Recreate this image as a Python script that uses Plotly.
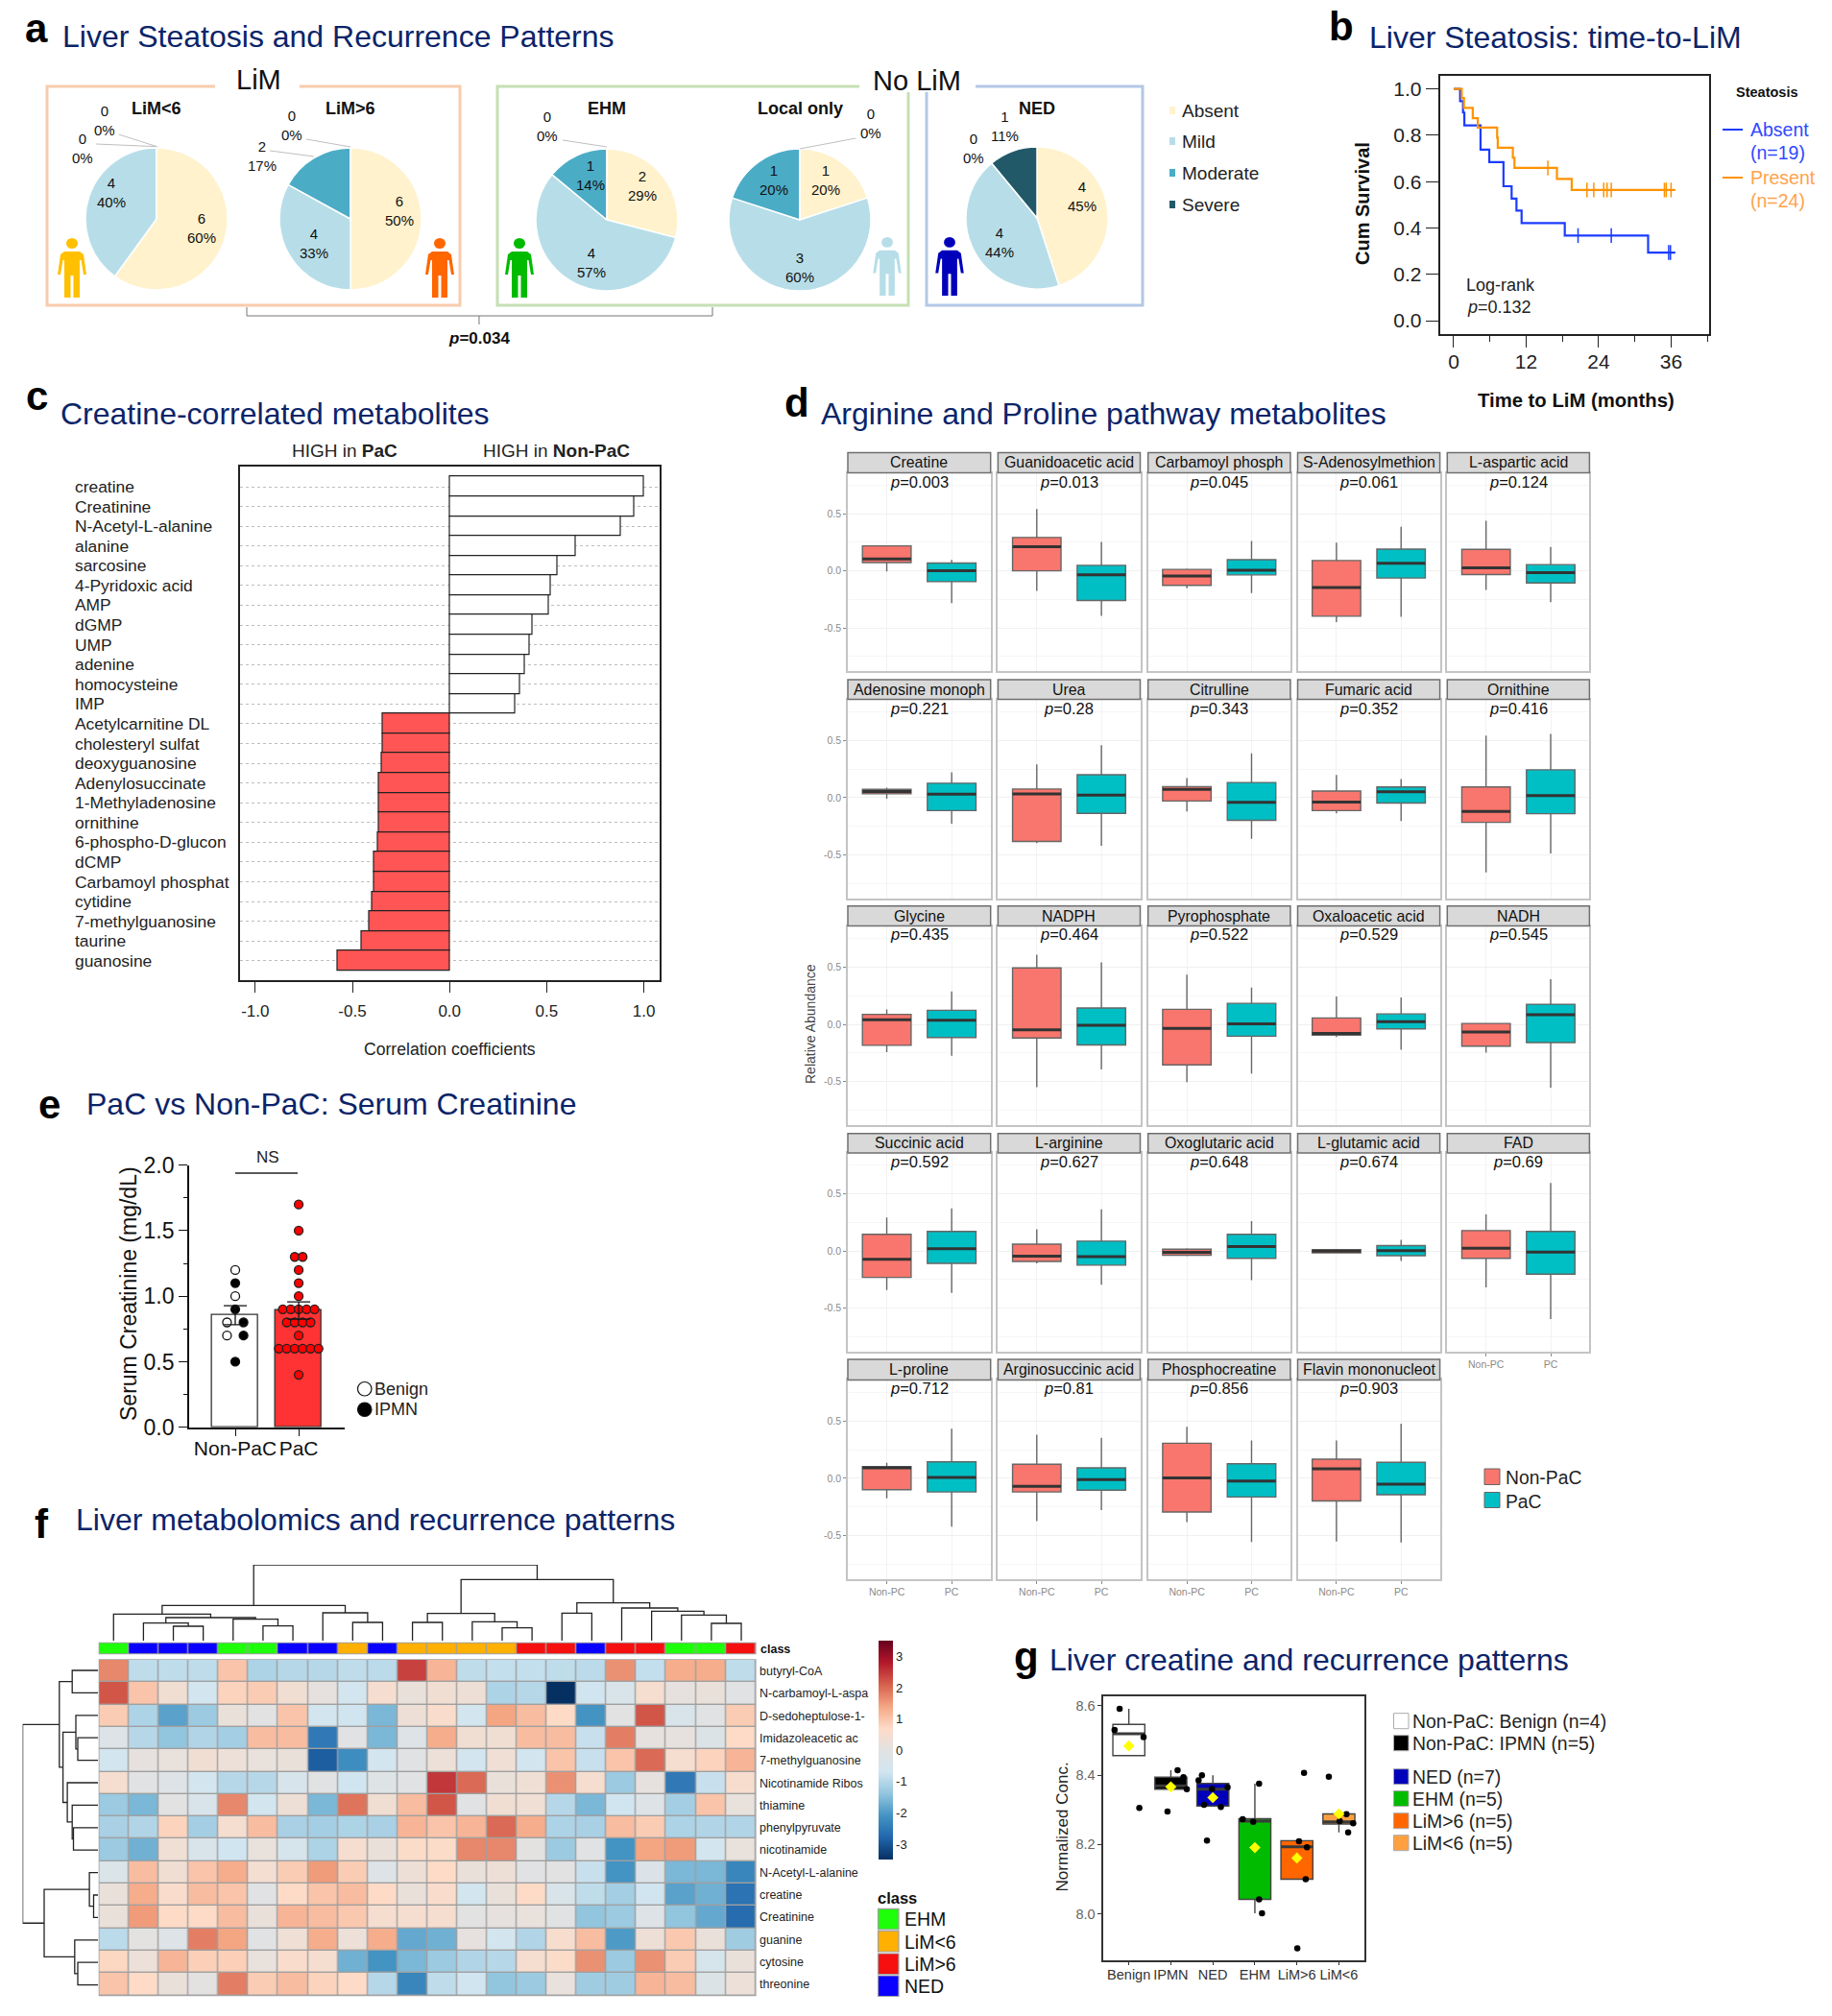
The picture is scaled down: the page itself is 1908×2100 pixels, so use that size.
import plotly.graph_objects as go

W, H = 1908, 2100
FONT = "Liberation Sans, Arial, sans-serif"
NAVY = "#0B2469"

# ---------- panel a ----------
pie_titles = ["LiM<6", "LiM>6", "EHM", "Local only", "NED"]
pie_slices = ["Absent", "Mild", "Moderate", "Severe"]
pie_values = [[60, 40, 0, 0], [50, 33, 17, 0], [29, 57, 14, 0], [20, 60, 20, 0], [45, 44, 0, 11]]
pie_colors = ["#FFF2CC", "#B7DEE8", "#4BACC6", "#215968"]
pie_label_text = [
    [("6<br>60%", 210, 238), ("4<br>40%", 116, 200), ("0<br>0%", 109, 125), ("0<br>0%", 86, 154)],
    [("6<br>50%", 416, 219), ("4<br>33%", 327, 253), ("2<br>17%", 273, 162), ("0<br>0%", 304, 130)],
    [("2<br>29%", 669, 194), ("4<br>57%", 616, 273), ("1<br>14%", 615, 182), ("0<br>0%", 570, 132)],
    [("1<br>20%", 860, 187), ("3<br>60%", 833, 278), ("1<br>20%", 806, 187), ("0<br>0%", 907, 129)],
    [("4<br>45%", 1127, 204), ("4<br>44%", 1041, 252), ("1<br>11%", 1046, 132), ("0<br>0%", 1014, 155)],
]

# ---------- panel b ----------
km_absent_t = [0, 1.07, 1.55, 1.77, 4.45, 5.9, 8.25, 9.6, 10.4, 11.25, 18.4, 32.2, 36.7]
km_absent_s = [1.0, 0.947, 0.898, 0.843, 0.738, 0.684, 0.58, 0.527, 0.475, 0.421, 0.367, 0.294, 0.294]
km_absent_cens_t = [20.6, 26.1, 35.6, 35.9]
km_absent_cens_s = [0.367, 0.367, 0.294, 0.294]
km_present_t = [0, 1.34, 1.7, 3.16, 4.0, 7.2, 7.3, 9.8, 10.07, 17.1, 19.55, 36.7]
km_present_s = [1.0, 0.961, 0.918, 0.874, 0.833, 0.79, 0.746, 0.703, 0.659, 0.612, 0.564, 0.564]
km_present_cens_t = [15.6, 22.07, 23.2, 24.85, 25.4, 26.1, 34.9, 35.2, 36.0]
km_present_cens_s = [0.659, 0.564, 0.564, 0.564, 0.564, 0.564, 0.564, 0.564, 0.564]

# ---------- panel c ----------
corr_names = ["creatine", "Creatinine", "N-Acetyl-L-alanine", "alanine", "sarcosine", "4-Pyridoxic acid", "AMP",
              "dGMP", "UMP", "adenine", "homocysteine", "IMP", "Acetylcarnitine DL", "cholesteryl sulfat",
              "deoxyguanosine", "Adenylosuccinate", "1-Methyladenosine", "ornithine", "6-phospho-D-glucon", "dCMP",
              "Carbamoyl phosphat", "cytidine", "7-methylguanosine", "taurine", "guanosine"]
corr_values = [1.0, 0.951, 0.881, 0.647, 0.556, 0.522, 0.513, 0.426, 0.414, 0.386, 0.362, 0.34, -0.343, -0.345,
               -0.347, -0.362, -0.362, -0.366, -0.369, -0.386, -0.388, -0.398, -0.412, -0.453, -0.577]

# ---------- panel d: [q1, median, q3, low whisker, high whisker] ----------
box_names = ["Creatine", "Guanidoacetic acid", "Carbamoyl phosph", "S-Adenosylmethion", "L-aspartic acid",
             "Adenosine monoph", "Urea", "Citrulline", "Fumaric acid", "Ornithine",
             "Glycine", "NADPH", "Pyrophosphate", "Oxaloacetic acid", "NADH",
             "Succinic acid", "L-arginine", "Oxoglutaric acid", "L-glutamic acid", "FAD",
             "L-proline", "Arginosuccinic acid", "Phosphocreatine", "Flavin mononucleot"]
box_pvals = ["0.003", "0.013", "0.045", "0.061", "0.124", "0.221", "0.28", "0.343", "0.352", "0.416",
             "0.435", "0.464", "0.522", "0.529", "0.545", "0.592", "0.627", "0.648", "0.674", "0.69",
             "0.712", "0.81", "0.856", "0.903"]
box_nonpac = [[.072, .104, .218, -.006, .22], [0, .21, .292, -.176, .54], [-.128, -.045, .012, -.152, .02],
              [-.397, -.146, .09, -.448, .247], [-.033, .027, .188, -.167, .438],
              [.033, .054, .072, -.009, .087], [-.383, .033, .075, -.398, .29], [-.03, .072, .096, -.12, .171],
              [-.114, -.039, .057, -.138, .198], [-.216, -.12, .093, -.653, .542],
              [-.183, .04, .087, -.242, .131], [-.119, -.048, .492, -.548, .607], [-.353, -.036, .131, -.504, .433],
              [-.095, -.079, .056, -.111, .242], [-.19, -.067, .008, -.246, .012],
              [-.23, -.071, .147, -.341, .294], [-.091, -.044, .06, -.107, .19], [-.036, -.012, .016, -.044, .024],
              [-.016, 0, .012, -.02, .016], [-.063, .024, .179, -.317, .321],
              [-.099, .091, .103, -.175, .135], [-.119, -.071, .123, -.373, .381], [-.294, .004, .306, -.381, .448],
              [-.198, .083, .167, -.552, .329]]
box_pac = [[-.095, 0, .068, -.283, .095], [-.26, -.036, .048, -.394, .253], [-.036, .006, .098, -.194, .262],
           [-.063, .065, .19, -.403, .385], [-.107, -.015, .054, -.274, .208],
           [-.114, .03, .126, -.228, .222], [-.138, .021, .2, -.422, .458], [-.198, -.042, .132, -.36, .386],
           [-.048, .051, .093, -.204, .162], [-.141, .018, .243, -.488, .557],
           [-.115, .036, .123, -.274, .286], [-.179, -.008, .143, -.393, .54], [-.103, .004, .183, -.429, .321],
           [-.04, .024, .091, -.222, .234], [-.159, .083, .175, -.552, .393],
           [-.107, .02, .171, -.365, .373], [-.123, -.048, .087, -.294, .365], [-.063, .04, .147, -.254, .262],
           [-.04, .004, .048, -.087, .099], [-.202, -.008, .171, -.595, .595],
           [-.119, .008, .143, -.421, .433], [-.103, -.012, .091, -.278, .353], [-.163, -.024, .127, -.556, .329],
           [-.143, -.052, .139, -.56, .476]]
box_cats = ["Non-PC", "PC"]

# ---------- panel e ----------
serum_cats = ["Non-PaC", "PaC"]
serum_means = [0.855, 0.891]
serum_sem = [0.073, 0.066]
serum_benign = [1.2, 1.0, 0.8, 0.7]
serum_ipmn = [1.1, 0.9, 0.8, 0.7, 0.5]
serum_pac = [1.7, 1.5, 1.3, 1.3, 1.2, 1.1, 1.0, .9, .9, .9, .9, .9, .8, .8, .8, .8, .7,
             .6, .6, .6, .6, .6, .6, .4]

# ---------- panel f ----------
hm_rows = ["butyryl-CoA", "N-carbamoyl-L-aspa", "D-sedoheptulose-1-", "Imidazoleacetic ac", "7-methylguanosine",
           "Nicotinamide Ribos", "thiamine", "phenylpyruvate", "nicotinamide", "N-Acetyl-L-alanine", "creatine",
           "Creatinine", "guanine", "cytosine", "threonine"]
hm_class = ["EHM", "NED", "NED", "NED", "EHM", "EHM", "NED", "NED", "LiM<6", "NED", "LiM<6", "LiM<6", "LiM<6", "LiM<6",
            "LiM>6", "LiM>6", "NED", "LiM>6", "LiM>6", "EHM", "EHM", "LiM>6"]
hm_values = [
    [1.7, -.9, -.9, -.9, 1.0, -1.1, -1, -1, -.9, -.95, 2.4, 1.2, -.9, -.85, -.85, -.9, -.95, 1.6, -.85, 1.3, 1.3, -.9],
    [2.2, 1.0, .4, -.6, .8, .9, .4, .1, -.6, .5, .2, .4, .3, -1.1, -1, -3.5, -.7, -.4, .5, .1, .2, -.1],
    [.9, -1.1, -1.9, -1.3, .2, 0, 1.0, -.6, -.7, -1.6, .3, .6, -.6, 1.4, 1.1, .7, -2.1, 0, 2.2, -.4, -.05, .9],
    [-.2, -1, -1.4, -1.05, -1.2, 1.1, 1.1, -2.5, -.1, -1.6, -.2, 1.3, .4, .4, 1.1, 1.1, -.8, 1.8, .1, .1, -.25, .7],
    [-.6, .1, .15, .4, .25, .15, .2, -2.9, -2.2, -.6, -.1, .25, -.6, .35, -.6, 1.0, -.8, 1.0, 2.0, .5, .8, 1.2],
    [.5, -.05, -.2, -.6, -1, -1, -.45, -.05, -.7, -.15, -.05, 2.5, 2.0, .2, .35, 1.6, .5, -1.3, .1, -2.5, -.8, .55],
    [-1.3, -1.6, 0, -.4, 1.7, -.6, .3, -1.6, 1.9, .4, 1.1, 2.2, -.1, .4, .35, -1, -1.6, -.7, -.2, -1.2, 1.0, .15],
    [-1.15, -1.05, .8, -1.2, .5, 1.1, -1.15, -1.2, -1.1, -1.15, 1.2, 1.0, 1.2, 2.0, 1.3, -1.1, -1.15, 1.1, .9, -1.1, -1.05, -1.05],
    [-1.3, -1.7, .35, -.4, -.7, .15, -.5, -1.1, .5, .2, .65, .65, 1.7, 1.7, .05, -1.3, -.05, -2.1, 1.4, 1.5, -.6, .15],
    [-.35, 1.1, .4, 1.0, 1.3, .45, .9, 1.5, .9, -.2, .3, .7, .2, .3, -.1, 0, -.8, -2.1, -.3, -1.6, -1.6, -2.3],
    [.2, 1.3, .6, 1.1, 1.0, -.1, .7, 1.0, 1.1, .7, .2, .6, -.6, .2, .7, -.4, -.9, -1.2, -.7, -1.9, -1.7, -2.6],
    [.2, 1.5, .7, .7, 1.1, .2, 1.2, 1.1, .95, .5, .5, .5, 0, .1, .15, -.05, -1.4, -1.3, -.2, -1.4, -1.8, -2.7],
    [-.95, .05, -.2, 1.8, 1.4, -.1, .35, 1.3, .25, 1.3, -1.8, -1.7, .1, -.6, -1.05, .55, 1.1, -2, .3, .95, .2, -1.25],
    [.75, .25, 1.2, .85, .85, .15, .6, .5, -1.7, -2.1, -1.6, -1.3, -1.05, -1, .5, .65, 1.6, -1.3, 1.6, .9, -.5, .2],
    [1.0, .7, .2, .05, 1.8, .9, 1.1, .8, .7, -1, -2.3, -.9, -.7, -1.4, -1.3, .15, -1.25, -1.25, 1.2, 1.1, -.25, .25],
]
hm_colorscale = [[0, "#053061"], [.1, "#2166AC"], [.2, "#4393C3"], [.3, "#92C5DE"], [.4, "#D1E5F0"], [.5, "#E2E2E2"],
                 [.6, "#FDDBC7"], [.7, "#F4A582"], [.8, "#D6604D"], [.9, "#B2182B"], [1, "#67001F"]]
class_names = ["EHM", "LiM<6", "LiM>6", "NED"]
class_colors = ["#1EFF0A", "#FFB000", "#F50F0F", "#0A00FF"]
# (left, right, height) merges
col_tree = (((0, ((1, (2, 3, 15.3), 18.7), (4, (5, 6, 15.7), 22.7), 24.3), 28), (7, (8, 9, 19.3), 29.3), 37),
            (((10, 11, 19.3), (12, (13, 14, 13.7), 20), 28.7),
             ((15, 16, 29), (17, (18, (19, (20, 21, 18.3), 27), 31), 34.3), 39.7), 64), 79.3)
row_tree = (((0, 1, 26.8), ((2, (3, 4, 21), 23), (5, (6, (7, 8, 25.5), 26.8), 31.9), 36.4), 40.2),
            ((9, (10, 11, 4.5), 8.9), (12, (13, 14, 21), 24.2), 56), 78.4)

# ---------- panel g ----------
g_cats = ["Benign", "IPMN", "NED", "EHM", "LiM>6", "LiM<6"]
g_q1 = [8.456, 8.359, 8.311, 8.042, 8.1, 8.259]
g_median = [8.519, 8.369, 8.359, 8.267, 8.193, 8.265]
g_q3 = [8.546, 8.394, 8.376, 8.274, 8.211, 8.288]
g_low = [8.456, 8.359, 8.311, 8.002, 8.1, 8.235]
g_high = [8.591, 8.414, 8.399, 8.375, 8.211, 8.288]
g_mean = [8.484, 8.366, 8.335, 8.191, 8.161, 8.288]
g_fill = ["#FFFFFF", "#000000", "#0000BB", "#00BB00", "#FF6600", "#FFA040"]
g_points = [[8.591, 8.53, 8.509, 8.305], [8.414, 8.394, 8.359, 8.295, 8.369],
            [8.399, 8.385, 8.36, 8.365, 8.314, 8.308, 8.211], [8.375, 8.273, 8.265, 8.042, 8.002],
            [8.406, 8.209, 8.192, 8.1, 7.901], [8.395, 8.287, 8.267, 8.261, 8.235]]
g_jitter = [[-.22, -.34, .35, .25], [.16, .3, .38, -.08, 0], [-.26, -.34, -.02, .35, -.21, .19, -.14],
            [.1, -.29, -.04, .1, .17], [.17, .05, .24, .21, .01], [-.24, .18, .02, .34, .22]]
g_legend = ["Non-PaC: Benign (n=4)", "Non-PaC: IPMN (n=5)", "NED (n=7)", "EHM (n=5)", "LiM>6 (n=5)", "LiM<6 (n=5)"]

# ======================================================================
fig = go.Figure()
shapes, annots, axes = [], [], {}
axis_n = [0]


def px(x):
    return x / W


def py(y):
    return 1 - y / H


def text(x, y, s, size=15, color="#111", anchor="center", angle=0, valign="middle"):
    annots.append(dict(x=px(x), y=py(y), xref="paper", yref="paper", text=s, showarrow=False, xanchor=anchor,
                       yanchor=valign, textangle=angle, font=dict(size=size, color=color, family=FONT),
                       borderpad=0, borderwidth=0))


def rect(x0, y0, x1, y1, fill="rgba(0,0,0,0)", line=None, lw=0, layer="above"):
    shapes.append(dict(type="rect", xref="paper", yref="paper", x0=px(x0), x1=px(x1), y0=py(y0), y1=py(y1),
                       fillcolor=fill, line=dict(color=line or "rgba(0,0,0,0)", width=lw), layer=layer))


def seg(points, color="#333", lw=1.0):
    d = "M " + " L ".join(f"{px(a):.5f},{py(b):.5f}" for a, b in points)
    shapes.append(dict(type="path", xref="paper", yref="paper", path=d, line=dict(color=color, width=lw)))


def new_axes(x0, y0, x1, y1, xkw, ykw):
    axis_n[0] += 1
    n = axis_n[0]
    xa, ya = f"x{n}", f"y{n}"
    base = dict(showgrid=False, zeroline=False, showline=False, ticks="", showticklabels=False)
    axes[f"xaxis{n}"] = {**base, "domain": [px(x0), px(x1)], "anchor": ya, **xkw}
    axes[f"yaxis{n}"] = {**base, "domain": [py(y1), py(y0)], "anchor": xa, **ykw}
    return xa, ya


def person(cx, top, color, h=62):
    k = h / 62
    shapes.append(dict(type="circle", xref="paper", yref="paper", x0=px(cx - 6 * k), x1=px(cx + 6 * k),
                       y0=py(top + 11 * k), y1=py(top), fillcolor=color, line=dict(width=0)))
    body = [(-8, 14), (8, 14), (12, 17), (15, 38), (12, 38), (9.5, 23), (8, 23), (8, 62), (1.5, 62), (1.5, 39),
            (-1.5, 39), (-1.5, 62), (-8, 62), (-8, 23), (-9.5, 23), (-12, 38), (-15, 38), (-12, 17)]
    d = "M " + " L ".join(f"{px(cx + a * k):.5f},{py(top + b * k):.5f}" for a, b in body) + " Z"
    shapes.append(dict(type="path", xref="paper", yref="paper", path=d, fillcolor=color, line=dict(width=0)))


def title(letter, lx, ly, s, tx, ty, size=32):
    text(lx, ly, f"<b>{letter}</b>", 42, "#000")
    text(tx, ty, s, size, NAVY, "left")


title("a", 38, 30, "Liver Steatosis and Recurrence Patterns", 65, 38)
title("b", 1397, 28, "Liver Steatosis: time-to-LiM", 1426, 39)
title("c", 38, 412, "Creatine-correlated metabolites", 63, 431)
title("d", 830, 420, "Arginine and Proline pathway metabolites", 855, 431)
title("e", 51, 1150, "PaC vs Non-PaC: Serum Creatinine", 90, 1150)
title("f", 43, 1587, "Liver metabolomics and recurrence patterns", 79, 1583)
title("g", 1069, 1725, "Liver creatine and recurrence patterns", 1093, 1729)

# ---------- a ----------
rect(49, 90, 479, 318, line="#F8CBAD", lw=3)
rect(518, 90, 946, 318, line="#C5E0B4", lw=3)
rect(965, 90, 1190, 318, line="#B4C7E7", lw=3)
rect(224, 84, 312, 96, fill="white")
rect(895, 84, 1016, 96, fill="white")
text(269, 83, "LiM", 29)
text(955, 84, "No LiM", 29)
pie_cx = [163, 365, 632, 833, 1080]
pie_cy = [228, 228, 229, 229, 227]
for i, vals in enumerate(pie_values):
    fig.add_trace(go.Pie(values=vals, labels=pie_slices, sort=False, direction="clockwise", rotation=0,
                         textinfo="none", marker=dict(colors=pie_colors, line=dict(color="white", width=1.5)),
                         domain=dict(x=[px(pie_cx[i] - 74), px(pie_cx[i] + 74)],
                                     y=[py(pie_cy[i] + 74), py(pie_cy[i] - 74)]), showlegend=False))
    text(pie_cx[i], 113, f"<b>{pie_titles[i]}</b>", 18)
    for s, x, y in pie_label_text[i]:
        text(x, y, s, 15)
for a in ([(123.6, 140), (163.5, 152.7)], [(100, 150), (163.5, 152.7)], [(281, 157), (327, 163)],
          [(319, 145), (365, 153)], [(586, 146), (632, 153)], [(891.5, 144), (833, 155)]):
    seg(a, "#BFBFBF", 1)
seg([(257, 320), (257, 329), (742, 329), (742, 320)], "#777", 1)
seg([(499, 329), (499, 338)], "#777", 1)
text(499, 353, "<b><i>p</i>=0.034</b>", 17)
for name, c, y in zip(pie_slices, pie_colors, [115, 147, 180, 213]):
    rect(1218, y - 4, 1224, y + 4, fill=c)
    text(1231, y, name, 19, "#222", "left")
person(75, 248, "#FFC000")
person(458, 248, "#FF6600")
person(541, 248, "#00BB00")
person(924, 247, "#B7DEE8", 61)
person(989, 247, "#0000BB", 61)

# ---------- b ----------
xa, ya = new_axes(1499.5, 79, 1780, 348,
                  dict(range=[-2.3, 42.3], showline=True, mirror=True, linecolor="#222", linewidth=1.5, ticks="outside",
                       ticklen=12, tickcolor="#222", tickvals=[0, 12, 24, 36], showticklabels=True,
                       tickfont=dict(size=21, color="#222"), ticklabelstandoff=-3,
                       minor=dict(tickvals=[6, 18, 30, 42], ticks="outside", ticklen=6, tickcolor="#222")),
                  dict(range=[-0.058, 1.0565], showline=True, mirror=True, linecolor="#222", linewidth=1.5, ticks="outside",
                       ticklen=13, tickcolor="#222", tickvals=[0, .2, .4, .6, .8, 1], tickformat=".1f",
                       showticklabels=True, tickfont=dict(size=21, color="#222")))
for t, s, ct, cs, col in [(km_absent_t, km_absent_s, km_absent_cens_t, km_absent_cens_s, "#1B3CFF"),
                          (km_present_t, km_present_s, km_present_cens_t, km_present_cens_s, "#FF9200")]:
    fig.add_trace(go.Scatter(x=t, y=s, mode="lines", line=dict(color=col, width=2.2, shape="hv"), xaxis=xa, yaxis=ya,
                             showlegend=False))
    fig.add_trace(go.Scatter(x=ct, y=cs, mode="markers", xaxis=xa, yaxis=ya, showlegend=False,
                             marker=dict(symbol="line-ns", size=11, line=dict(color=col, width=1.5))))
text(1641, 417, "<b>Time to LiM (months)</b>", 20.3)
text(1419, 212, "<b>Cum Survival</b>", 20, angle=-90)
text(1527, 297, "Log-rank", 18, "#222", "left")
text(1528, 320, "<i>p</i>=0.132", 18, "#222", "left")
text(1840, 96, "<b>Steatosis</b>", 14.5, "#111")
seg([(1794, 135), (1815, 135)], "#1B3CFF", 2)
seg([(1794, 185), (1815, 185)], "#FF9200", 2)
text(1823, 135, "Absent", 19.5, "#2F49FF", "left")
text(1823, 159, "(n=19)", 19.5, "#2F49FF", "left")
text(1823, 185, "Present", 19.5, "#FFA24D", "left")
text(1823, 209, "(n=24)", 19.5, "#FFA24D", "left")

# ---------- c ----------
rows = list(range(len(corr_names)))
xa, ya = new_axes(249.6, 486.3, 686.9, 1021,
                  dict(range=[-1.08, 1.0805], showline=True, mirror=True, linecolor="#222", linewidth=1.5,
                       ticks="outside", ticklen=11, tickcolor="#222", tickvals=[-1, -.5, 0, .5, 1],
                       ticktext=["-1.0", "-0.5", "0.0", "0.5", "1.0"],
                       showticklabels=True, tickfont=dict(size=17, color="#222"), ticklabelstandoff=5),
                  dict(range=[24.98, -1.006], showline=True, mirror=True, linecolor="#222", linewidth=1.5,
                       tickvals=rows, showgrid=True, griddash="dot", gridcolor="#BDBDBD", gridwidth=1))
fig.add_trace(go.Bar(x=corr_values, y=rows, orientation="h", width=1, xaxis=xa, yaxis=ya, showlegend=False,
                     marker=dict(color=["#FFFFFF" if v > 0 else "#FF5555" for v in corr_values],
                                 line=dict(color="#222", width=1.2))))
row_y = [507 + 20.58 * r for r in rows]
for name, y in zip(corr_names, row_y):
    text(77.5, y, name, 17.4, "#222", "left")
text(359, 470, "HIGH in <b>PaC</b>", 19, "#222")
text(579, 470, "HIGH in <b>Non-PaC</b>", 19, "#222")
text(468, 1093, "Correlation coefficients", 17.6, "#222")

# ---------- d ----------
col_x = [(883, 1031.7), (1039.4, 1187.5), (1195.7, 1343.9), (1351.5, 1499.6), (1507.3, 1655.4)]
row_p = [(471.4, 492.5, 699.3), (707.9, 728.6, 935.7), (943.8, 964.5, 1172.2), (1180.7, 1201, 1408), (1416, 1437.4, 1645)]
for i, name in enumerate(box_names):
    r, c = divmod(i, 5)
    x0, x1 = col_x[c]
    st, sb, bot = row_p[r]
    bottom = r == 4 or i == 19
    left = c == 0
    xa, ya = new_axes(x0, sb, x1, bot,
                      dict(range=[-.6, 1.6], tickvals=[0, 1], ticktext=box_cats, showgrid=True, gridcolor="#F2F2F2",
                           showline=True, mirror=True, linecolor="#C4C4C4", linewidth=1.5,
                           showticklabels=bottom, ticks="outside" if bottom else "", ticklen=3, tickcolor="#888",
                           tickfont=dict(size=10.5, color="#8A8A8A")),
                      dict(range=[-.88, .858], tickvals=[-.5, 0, .5], ticktext=["-0.5", "0.0", "0.5"], showgrid=True,
                           gridcolor="#F0F0F0", showline=True, mirror=True, linecolor="#C4C4C4", linewidth=1.5,
                           showticklabels=left, ticks="outside" if left else "", ticklen=3, tickcolor="#888",
                           tickfont=dict(size=10.5, color="#8A8A8A"),
                           minor=dict(tickvals=[-.75, -.25, .25, .75], showgrid=True, gridcolor="#F6F6F6")))
    for k, (stats, col) in enumerate([(box_nonpac[i], "#F8766D"), (box_pac[i], "#00BFC4")]):
        q1, med, q3, lo, hi = stats
        fig.add_trace(go.Box(x=[k], q1=[q1], median=[med], q3=[q3], lowerfence=[lo], upperfence=[hi], width=.75,
                             fillcolor=col, line=dict(color="#666", width=1.4), whiskerwidth=0, boxpoints=False,
                             xaxis=xa, yaxis=ya, showlegend=False))
        fig.add_trace(go.Scatter(x=[k - .375, k + .375], y=[med, med], mode="lines", xaxis=xa, yaxis=ya,
                                 line=dict(color="#333", width=3), showlegend=False))
    rect(x0, st, x1, sb, fill="#D9D9D9", line="#6F6F6F", lw=1.5)
    text((x0 + x1) / 2, (st + sb) / 2, name, 15.9, "#111")
    text((x0 + x1) / 2, sb + 9, f"<i>p</i>={box_pvals[i]}", 16.5, "#111")
text(844, 1067, "Relative Abundance", 14, "#444", angle=-90)
rect(1546, 1530, 1562, 1546.5, fill="#F8766D", line="#666", lw=1)
rect(1546, 1554.5, 1562, 1570.5, fill="#00BFC4", line="#666", lw=1)
text(1568, 1539, "Non-PaC", 19.3, "#222", "left")
text(1568, 1564, "PaC", 19.3, "#222", "left")


# ---------- e ----------
def swarm(values, step):
    groups = {}
    for v in values:
        groups[v] = groups.get(v, 0) + 1
    seen, out = {}, []
    for v in values:
        n = groups[v]
        k = seen.get(v, 0)
        seen[v] = k + 1
        out.append((k - (n - 1) / 2) * step)
    return out


xa, ya = new_axes(196.8, 1213.7, 359.3, 1486.7,
                  dict(range=[-.73, 1.73], showline=True, linecolor="#111", linewidth=1.5, ticks="outside", ticklen=8,
                       tickcolor="#111", tickvals=[0, 1], ticktext=serum_cats, showticklabels=True,
                       tickfont=dict(size=21, color="#111"), ticklabelstandoff=-6),
                  dict(range=[0, 2.0], showline=True, linecolor="#111", linewidth=1.5, ticks="outside", ticklen=9,
                       tickcolor="#111", tickvals=[0, .5, 1, 1.5, 2], tickformat=".1f", showticklabels=True,
                       tickfont=dict(size=23, color="#111"),
                       minor=dict(tickvals=[.25, .75, 1.25, 1.75], ticks="outside", ticklen=4, tickcolor="#111")))
fig.add_trace(go.Bar(x=[0, 1], y=serum_means, width=.73, xaxis=xa, yaxis=ya, showlegend=False,
                     marker=dict(color=["#FFFFFF", "#FF3333"], line=dict(color="#333", width=1.3))))
nonpac_offsets = swarm(serum_benign + serum_ipmn, .26)
fig.add_trace(go.Scatter(x=nonpac_offsets[:len(serum_benign)], y=serum_benign, mode="markers", xaxis=xa, yaxis=ya,
                         showlegend=False, marker=dict(size=9, color="#FFFFFF", line=dict(color="#111", width=1.3))))
fig.add_trace(go.Scatter(x=nonpac_offsets[len(serum_benign):], y=serum_ipmn, mode="markers", xaxis=xa, yaxis=ya,
                         showlegend=False, marker=dict(size=9, color="#000000", line=dict(color="#111", width=1.3))))
fig.add_trace(go.Scatter(x=[1 + s for s in swarm(serum_pac, .125)], y=serum_pac, mode="markers", xaxis=xa, yaxis=ya,
                         showlegend=False, marker=dict(size=9, color="#FF0000", line=dict(color="#222", width=1.3))))
fig.add_trace(go.Scatter(x=[0, 1], y=serum_means, mode="markers", marker=dict(size=1, opacity=0), xaxis=xa, yaxis=ya,
                         showlegend=False, error_y=dict(type="data", array=serum_sem, color="#111", thickness=1.3,
                                                        width=12)))
text(134, 1348, "Serum Creatinine (mg/dL)", 23, "#111", angle=-90)
text(279, 1205, "NS", 17, "#222")
seg([(245, 1222), (310, 1222)], "#222", 1.5)
shapes.append(dict(type="circle", xref="paper", yref="paper", x0=px(372.5), x1=px(387), y0=py(1454), y1=py(1439.5),
                   fillcolor="white", line=dict(color="#111", width=1.2)))
shapes.append(dict(type="circle", xref="paper", yref="paper", x0=px(372.5), x1=px(387), y0=py(1475.5), y1=py(1461),
                   fillcolor="black", line=dict(color="#111", width=1.2)))
text(390, 1446.5, "Benign", 18, "#222", "left")
text(390, 1468, "IPMN", 18, "#222", "left")


# ---------- f ----------
def tree_lines(node, along_pos):
    xs, hs = [], []

    def walk(n):
        if isinstance(n, int):
            return along_pos(n), 0
        a, ha = walk(n[0])
        b, hb = walk(n[1])
        xs.extend([a, a, b, b, None])
        hs.extend([ha, n[2], n[2], hb, None])
        return (a + b) / 2, n[2]

    walk(node)
    return xs, hs


cols = list(range(22))
xa, ya = new_axes(102.7, 1630, 787.6, 1709.3, dict(range=[0, 22]), dict(range=[0, 79.3]))
dx, dh = tree_lines(col_tree, lambda n: n + .5)
fig.add_trace(go.Scatter(x=dx, y=dh, mode="lines", line=dict(color="#222", width=1.3), xaxis=xa, yaxis=ya,
                         showlegend=False))
xa, ya = new_axes(23.6, 1728.3, 102, 2079.3, dict(range=[78.4, 0]), dict(range=[15, 0]))
dy, dh = tree_lines(row_tree, lambda n: n + .5)
fig.add_trace(go.Scatter(x=dh, y=dy, mode="lines", line=dict(color="#222", width=1.3), xaxis=xa, yaxis=ya,
                         showlegend=False))
rect(102.7, 1710.7, 787.6, 1723.3, fill="#A0A0A0", layer="below")
rect(102.7, 1728.3, 787.6, 2079.3, fill="#A0A0A0", layer="below")
xa, ya = new_axes(103.3, 1711.4, 787, 1722.6, dict(range=[0, 22]), dict(range=[0, 1]))
fig.add_trace(go.Heatmap(x=[c + .5 for c in cols], y=[.5], z=[[class_names.index(c) for c in hm_class]], xgap=1.4,
                         zmin=-.5, zmax=3.5, showscale=False, xaxis=xa, yaxis=ya,
                         colorscale=[[0, class_colors[0]], [.25, class_colors[0]], [.25, class_colors[1]],
                                     [.5, class_colors[1]], [.5, class_colors[2]], [.75, class_colors[2]],
                                     [.75, class_colors[3]], [1, class_colors[3]]]))
xa, ya = new_axes(103.3, 1729, 787, 2078.6, dict(range=[0, 22]),
                  dict(range=[15, 0], side="right", tickvals=[r + .5 for r in range(15)], ticktext=hm_rows,
                       showticklabels=True, tickfont=dict(size=12.5, color="#222"), ticklabelstandoff=3))
fig.add_trace(go.Heatmap(x=[c + .5 for c in cols], y=[r + .5 for r in range(15)], z=hm_values, zmin=-3.5, zmax=3.5,
                         colorscale=hm_colorscale, xgap=1.4, ygap=1.4, xaxis=xa, yaxis=ya,
                         colorbar=dict(x=px(914.5), xanchor="left", y=py(1709.3), yanchor="top",
                                       len=(1937 - 1709.3) / H, thickness=15.3, outlinewidth=0, xpad=0, ypad=0,
                                       tickvals=[-3, -2, -1, 0, 1, 2, 3], ticktext=["-3", "-2", "-1", "0", "1", "2", "3"],
                                       ticks="", tickfont=dict(size=13, color="#222", family=FONT))))
text(791.5, 1717.7, "<b>class</b>", 12.5, "#111", "left")
text(914, 1977, "<b>class</b>", 16.5, "#111", "left")
for name, col, y0 in zip(class_names, class_colors, [1988.3, 2011.5, 2035, 2058]):
    rect(914.5, y0, 936, y0 + 21.5, fill=col, line="#A0A0A0", lw=1.2)
    text(942, y0 + 11, name, 19.5, "#111", "left")

# ---------- g ----------
xa, ya = new_axes(1149.2, 1767.3, 1420.7, 2041.7,
                  dict(range=[-.605, 5.6], showline=True, mirror=True, linecolor="#333", linewidth=1.5,
                       ticks="outside", ticklen=4, tickcolor="#333", tickvals=list(range(6)), ticktext=g_cats,
                       showticklabels=True, tickfont=dict(size=14.5, color="#333"), ticklabelstandoff=-3),
                  dict(range=[7.867, 8.626], showline=True, mirror=True, linecolor="#333", linewidth=1.5,
                       ticks="outside", ticklen=4, tickcolor="#333", tickvals=[8.0, 8.2, 8.4, 8.6], tickformat=".1f",
                       showticklabels=True, tickfont=dict(size=14.5, color="#666")))
for i in range(6):
    fig.add_trace(go.Box(x=[i], q1=[g_q1[i]], median=[g_median[i]], q3=[g_q3[i]], lowerfence=[g_low[i]],
                         upperfence=[g_high[i]], width=.76, fillcolor=g_fill[i], boxpoints=False, whiskerwidth=0,
                         line=dict(color="#444", width=1.4), xaxis=xa, yaxis=ya, showlegend=False))
    fig.add_trace(go.Scatter(x=[i - .38, i + .38], y=[g_median[i], g_median[i]], mode="lines", xaxis=xa, yaxis=ya,
                             line=dict(color="#3A3A3A", width=3), showlegend=False))
    fig.add_trace(go.Scatter(x=[i + j for j in g_jitter[i]], y=g_points[i], mode="markers", xaxis=xa, yaxis=ya,
                             marker=dict(size=6.5, color="#000000"), showlegend=False))
fig.add_trace(go.Scatter(x=list(range(6)), y=g_mean, mode="markers", xaxis=xa, yaxis=ya, showlegend=False,
                         marker=dict(symbol="diamond", size=9, color="#FFFF00")))
text(1105.5, 1903, "Normalized Conc.", 17, "#222", angle=-90)
legend_fill = ["#FFFFFF", "#000000", "#0000BB", "#00BB00", "#FF6600", "#FFA040"]
for name, col, y in zip(g_legend, legend_fill, [1792.7, 1815.7, 1850.7, 1873.5, 1896.7, 1919.7]):
    rect(1451.5, y - 8, 1467, y + 8, fill=col, line="#AAAAAA", lw=1)
    text(1471, y, name, 19.4, "#222", "left")

fig.update_layout(width=W, height=H, margin=dict(l=0, r=0, t=0, b=0, pad=0, autoexpand=False), paper_bgcolor="white",
                  plot_bgcolor="rgba(0,0,0,0)", showlegend=False, font=dict(family=FONT), shapes=shapes,
                  annotations=annots, hovermode=False, bargap=0, **axes)
fig.write_html("out.html", config={"displayModeBar": False}, post_script="document.body.style.margin='0';")
